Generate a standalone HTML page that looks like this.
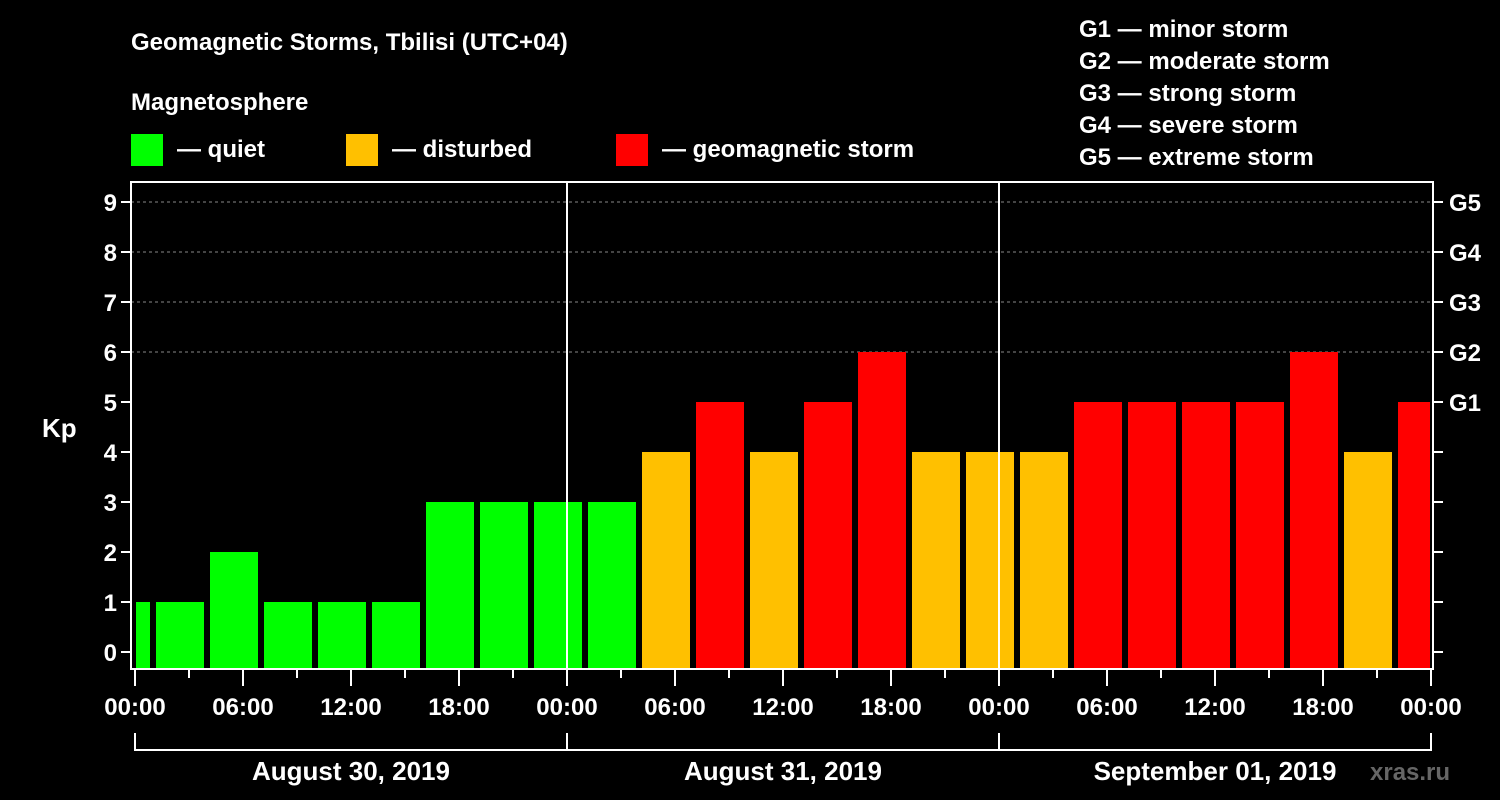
<!DOCTYPE html>
<html><head><meta charset="utf-8"><style>
body{margin:0;background:#000;}
svg{display:block;font-family:"Liberation Sans",Arial,sans-serif;font-weight:bold;}
</style></head><body>
<svg id="c" width="1500" height="800" viewBox="0 0 1500 800">
<text x="131" y="50" fill="#fff" font-size="24">Geomagnetic Storms, Tbilisi (UTC+04)</text>
<text x="131" y="110" fill="#fff" font-size="24">Magnetosphere</text>
<g><rect x="131" y="134" width="32" height="32" fill="#00ff00"/><text x="177" y="157" fill="#fff" font-size="24">— quiet</text></g>
<g><rect x="346" y="134" width="32" height="32" fill="#ffc000"/><text x="392" y="157" fill="#fff" font-size="24">— disturbed</text></g>
<g><rect x="616" y="134" width="32" height="32" fill="#ff0000"/><text x="662" y="157" fill="#fff" font-size="24">— geomagnetic storm</text></g>
<g fill="#fff" font-size="24">
<text x="1079" y="37">G1 — minor storm</text><text x="1079" y="69">G2 — moderate storm</text><text x="1079" y="101">G3 — strong storm</text><text x="1079" y="133">G4 — severe storm</text><text x="1079" y="165">G5 — extreme storm</text></g>
<text x="42" y="437" fill="#fff" font-size="26">Kp</text>
<text x="1370" y="780" fill="#666" font-size="24">xras.ru</text>
<g id="g"></g>
</svg>
<script>
const kpValues=[1,1,2,1,1,1,3,3,3,3,4,5,4,5,6,4,4,4,5,5,5,5,6,4,5];
const yTicks=[0,1,2,3,4,5,6,7,8,9];
const gLabels=["G1","G2","G3","G4","G5"];
const dayLabels=["August 30, 2019","August 31, 2019","September 01, 2019"];
const hourLabels=["00:00","06:00","12:00","18:00"];
const NS="http://www.w3.org/2000/svg";
const g=document.getElementById('g');
const X0=135,PXH=18,L=131,R=1433,T=182,B=669;
const x=h=>X0+h*PXH, y=v=>652-v*50;
function el(t,a,p){const e=document.createElementNS(NS,t);for(const k in a)e.setAttribute(k,a[k]);(p||g).appendChild(e);return e;}
// grid
yTicks.forEach(v=>{if(v>=6){const l=el('line',{x1:L,x2:R,y1:y(v),y2:y(v),stroke:'#888','stroke-dasharray':'3,3','stroke-width':1});}});
// bars
kpValues.forEach((v,i)=>{const h0=1+3*(i-1);let x1=x(h0)+3,x2=x(h0+3)-3;x1=Math.max(x1,L+5);x2=Math.min(x2,R-3);
const c=v>=5?'#ff0000':(v>=4?'#ffc000':'#00ff00');
const r=el('rect',{x:x1,y:y(v),width:x2-x1,height:B-1-y(v),fill:c});

});
// day dividers
[1,2].forEach(d=>{const l=el('line',{x1:x(24*d),x2:x(24*d),y1:T,y2:B,stroke:'#fff','stroke-width':2});});
const f=el('rect',{x:L,y:T,width:R-L,height:B-T,fill:'none',stroke:'#fff','stroke-width':2});

yTicks.forEach(v=>{el('line',{x1:L-10,x2:L,y1:y(v),y2:y(v),stroke:'#fff','stroke-width':2});el('line',{x1:R,x2:R+10,y1:y(v),y2:y(v),stroke:'#fff','stroke-width':2});
const t=el('text',{x:L-14,y:y(v)+9,fill:'#fff','font-size':24,'text-anchor':'end'});t.textContent=v;
});
gLabels.forEach((s,i)=>{const t=el('text',{x:R+16,y:y(5+i)+9,fill:'#fff','font-size':24});t.textContent=s;
});
for(let h=0;h<=72;h+=3){const maj=h%6==0;el('line',{x1:x(h),x2:x(h),y1:B,y2:B+(maj?17:9),stroke:'#fff','stroke-width':2});
if(maj){const t=el('text',{x:x(h),y:B+46,fill:'#fff','font-size':24,'text-anchor':'middle'});t.textContent=hourLabels[(h/6)%4];
}}
el('line',{x1:x(0),x2:x(72),y1:750,y2:750,stroke:'#fff','stroke-width':2});
dayLabels.forEach((s,d)=>{el('line',{x1:x(24*d),x2:x(24*d),y1:733,y2:751,stroke:'#fff','stroke-width':2});
const t=el('text',{x:x(24*d+12),y:780,fill:'#fff','font-size':26,'text-anchor':'middle'});t.textContent=s;
});
el('line',{x1:x(72),x2:x(72),y1:733,y2:751,stroke:'#fff','stroke-width':2});
</script>
</body></html>
